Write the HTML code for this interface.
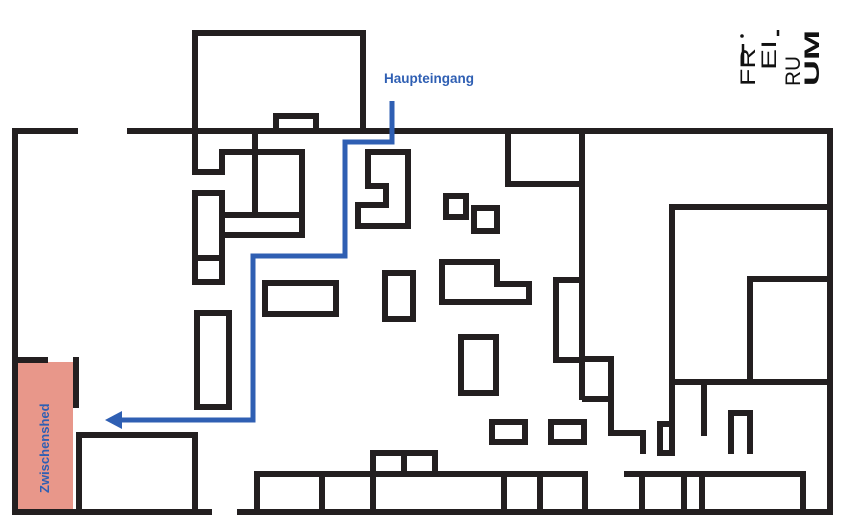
<!DOCTYPE html>
<html><head><meta charset="utf-8"><style>
html,body{margin:0;padding:0;background:#fff;}
svg{display:block;}
</style></head><body>
<svg width="849" height="528" viewBox="0 0 849 528" xmlns="http://www.w3.org/2000/svg">
<rect width="849" height="528" fill="#fff"/>
<rect x="18" y="362" width="55" height="147" fill="#e8978a"/>
<g fill="none" stroke="#231f20" stroke-width="6" stroke-linecap="butt">
<path d="M12,131 H78 M127,131 H830 V512 H237 M212,512 H15 V128"/>
<rect x="195" y="33" width="168" height="98"/>
<rect x="276" y="116" width="40" height="15"/>
<path d="M195,131 V172 H222 V152 H302 V235 H222 M255,131 V215 M222,215 H302"/>
<rect x="195" y="193" width="27" height="89"/>
<path d="M195,258 H222"/>
<rect x="197" y="313" width="32" height="94"/>
<rect x="265" y="283" width="71" height="31"/>
<path d="M368,152 H408 V226 H358 V205 H386 V186 H368 Z"/>
<rect x="385" y="273" width="28" height="46"/>
<path d="M15,360 H48 M76,357 V408"/>
<rect x="79" y="435" width="116" height="77"/>
<path d="M257,512 V474 H585 V512 M322,474 V512 M373,474 V512 M504,474 V512 M540,474 V512"/>
<path d="M373,474 V453 H435 V474 M404,453 V474"/>
<path d="M624,474 H803 V512 M642,474 V512 M684,474 V512 M702,474 V512"/>
<path d="M508,131 V184 H582 M582,131 V400"/>
<rect x="556" y="280" width="26" height="80"/>
<path d="M582,359 H611 V399 H582 M611,399 V433 H643 V454"/>
<rect x="660" y="424" width="12" height="29"/>
<path d="M672,454 V207 H830 M672,382 H830 M750,382 V279 H830 M704,382 V436 M731,454 V413 H750 V454"/>
<rect x="446" y="196" width="20" height="21"/>
<rect x="474" y="208" width="23" height="23"/>
<path d="M442,262 H497 V284 H529 V302 H442 Z"/>
<rect x="461" y="337" width="35" height="56"/>
<rect x="492" y="422" width="33" height="20"/>
<rect x="551" y="422" width="33" height="20"/>
</g>
<g fill="none" stroke="#2f5fb3" stroke-width="5">
<path d="M392,101 V142 H345 V256 H253 V420 H118"/>
</g>
<polygon points="105,420 122,411 122,429" fill="#2f5fb3"/>
<text x="384" y="83" font-family="Liberation Sans, sans-serif" font-weight="bold" font-size="13.5" fill="#2f5fb3">Haupteingang</text>
<text transform="translate(49,493) rotate(-90)" font-family="Liberation Sans, sans-serif" font-weight="bold" font-size="13" fill="#2f5fb3">Zwischenshed</text>
<g font-family="Liberation Sans, sans-serif" font-size="21" fill="#111">
<text transform="translate(755,86) rotate(-90)" textLength="38" lengthAdjust="spacingAndGlyphs">FR</text>
<text transform="translate(776,70) rotate(-90)" textLength="30" lengthAdjust="spacingAndGlyphs">EI</text>
<text transform="translate(800,86) rotate(-90)" textLength="30" lengthAdjust="spacingAndGlyphs">RU</text>
<text transform="translate(819,86) rotate(-90)" font-weight="bold" textLength="56" lengthAdjust="spacingAndGlyphs">UM</text>
</g>
<circle cx="742" cy="36" r="1.8" fill="#111"/>
<path d="M743,44 V64 M778,30 V36" stroke="#111" stroke-width="2.5"/>
</svg>
</body></html>
